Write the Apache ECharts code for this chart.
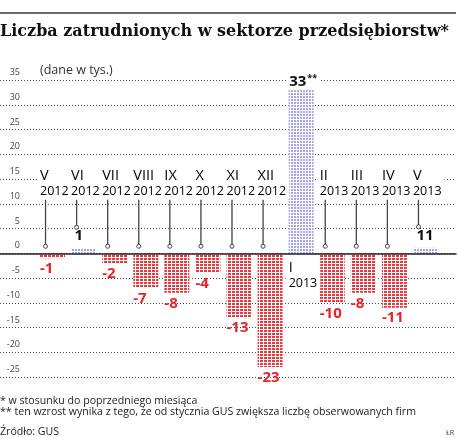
<!DOCTYPE html>
<html><head><meta charset="utf-8">
<script src="https://cdn.jsdelivr.net/npm/echarts@6/dist/echarts.min.js"></script>
<style>html,body{margin:0;padding:0;background:#fff}#c{width:458px;height:438px}</style>
</head><body><div id="c"></div>
<script>
const months = ['V','VI','VII','VIII','IX','X','XI','XII','I','II','III','IV','V'];
const years = ['2012','2012','2012','2012','2012','2012','2012','2012','2013','2013','2013','2013','2013'];
const values = [-1, 1, -2, -7, -8, -4, -13, -23, 33, -10, -8, -11, 1.1];
const valueLabels = ['-1','1','-2','-7','-8','-4','-13','-23','33**','-10','-8','-11','11'];
const yMin = -25, yMax = 35, yStep = 5;
const categories = months.map((m, i) => m + ' ' + years[i]);

const RED = '#e5242b';
const redStyle = {
  color: '#ffffff',
  decal: { symbol: 'rect', symbolSize: 1, dashArrayX: [3, 1], dashArrayY: [2, 1], color: '#ea3a40', rotation: 0 }
};
const blueStyle = {
  color: '#ffffff',
  decal: { symbol: 'rect', symbolSize: 1, dashArrayX: [2, 1], dashArrayY: [2, 1], color: '#a6a6f0', rotation: 0 }
};
const FONT = '"Open Sans", "Noto Sans", sans-serif';

const barData = values.map((v, i) => {
  const neg = v < 0;
  return {
    value: v,
    itemStyle: neg ? redStyle : blueStyle,
    label: neg ? {
      show: true, position: 'bottom', distance: 3, align: 'left', offset: [-12.5, 0],
      formatter: valueLabels[i], color: RED, fontWeight: 'bold', fontSize: 15, fontFamily: FONT
    } : {
      show: true, position: 'top', distance: v > 20 ? 1 : 5, align: 'left', offset: [v > 20 ? -14 : -11, 0],
      formatter: valueLabels[i].indexOf('**') >= 0 ?
        '{a|' + valueLabels[i].replace('**', '') + '}{s|**}' : '{a|' + valueLabels[i] + '}',
      backgroundColor: v > 20 ? '#fff' : 'transparent', padding: [0, 2],
      rich: {
        a: { color: '#111', fontWeight: 'bold', fontSize: 15, fontFamily: FONT },
        s: { color: '#111', fontWeight: 'bold', fontSize: 9, fontFamily: FONT, verticalAlign: 'top', padding: [0, 0, 6, 1] }
      }
    }
  };
});

const chart = echarts.init(document.getElementById('c'), null, { renderer: 'canvas' });
chart.setOption({
  animation: false,
  backgroundColor: '#fff',
  grid: [
    { left: 0, right: 2, top: 80, bottom: 61 },
    { left: 37, right: 17, top: 80, bottom: 61 }
  ],
  xAxis: [
    { gridIndex: 0, type: 'value', min: 0, max: 1, z: 5,
      axisLine: { show: true, onZero: true, lineStyle: { color: '#222', width: 1.5 } },
      axisTick: { show: false }, axisLabel: { show: false }, splitLine: { show: false } },
    { gridIndex: 1, type: 'category', data: categories, show: false }
  ],
  yAxis: [
    { gridIndex: 0, type: 'value', min: yMin, max: yMax, interval: yStep,
      axisLine: { show: false }, axisTick: { show: false },
      axisLabel: { inside: true, align: 'right', margin: 20, verticalAlign: 'bottom', padding: [0, 0, 3, 0],
        fontSize: 9, color: '#444', fontFamily: FONT },
      splitLine: { show: true, lineStyle: { type: [1, 2], color: '#444', width: 1 } } },
    { gridIndex: 1, type: 'value', min: yMin, max: yMax, interval: yStep, show: false, splitLine: { show: false } }
  ],
  series: [
    { type: 'bar', xAxisIndex: 1, yAxisIndex: 1, barWidth: 25, data: barData, z: 2 },
    { type: 'custom', xAxisIndex: 1, yAxisIndex: 1, z: 4,
      data: values.map((v, i) => [i, v]),
      renderItem: function (params, api) {
        const i = api.value(0), v = api.value(1);
        const c0 = api.coord([i, 0]);
        const left = c0[0] - 12.5;
        const txtStyle = {
          text: '{m|' + months[i] + '}\n{y|' + years[i] + '}',
          backgroundColor: '#fff', padding: [1, 3],
          rich: {
            m: { fontSize: 14.5, lineHeight: 16, color: '#222', fontFamily: FONT },
            y: { fontSize: 12.5, lineHeight: 14, color: '#222', fontFamily: FONT }
          }
        };
        const children = [];
        if (v > 20) {
          children.push({ type: 'text', x: left - 3, y: c0[1] + 6, style: txtStyle });
        } else {
          const yTop = api.coord([i, 15])[1];
          children.push({ type: 'text', x: left - 3, y: yTop - 12, style: txtStyle });
          const lx = c0[0] - 7;
          const y1 = api.coord([i, 10])[1] - 4;
          const y2 = v > 0 ? api.coord([i, v])[1] - 21 : c0[1] - 7;
          children.push({ type: 'line', shape: { x1: lx, y1: y1, x2: lx, y2: y2 }, style: { stroke: '#444', lineWidth: 1.3 } });
          children.push({ type: 'circle', shape: { cx: lx, cy: y2, r: 2 }, style: { fill: '#fff', stroke: '#444', lineWidth: 1 } });
        }
        return { type: 'group', children: children };
      }
    }
  ],
  graphic: [
    { type: 'line', shape: { x1: 0, y1: 13, x2: 456, y2: 13 }, style: { stroke: '#6a6a6a', lineWidth: 2 } },
    { type: 'text', left: 0, top: 24, style: { text: 'Liczba zatrudnionych w sektorze przedsiębiorstw*',
        font: 'bold 16px "DejaVu Serif", serif', fill: '#111' } },
    { type: 'text', left: 40, top: 64, style: { text: '(dane w tys.)', font: '12.5px ' + FONT, fill: '#333' } },
    { type: 'text', left: 0, top: 395, style: { text: '* w stosunku do poprzedniego miesiąca', font: '10.6px ' + FONT, fill: '#222' } },
    { type: 'text', left: 0, top: 406, style: { text: '** ten wzrost wynika z tego, że od stycznia GUS zwiększa liczbę obserwowanych firm', font: '10.6px ' + FONT, fill: '#222' } },
    { type: 'text', left: 0, top: 426, style: { text: 'Źródło: GUS', font: '10.6px ' + FONT, fill: '#222' } },
    { type: 'text', right: 4, top: 429, style: { text: 'ŁR', font: '7px ' + FONT, fill: '#333' } }
  ]
});
</script></body></html>
